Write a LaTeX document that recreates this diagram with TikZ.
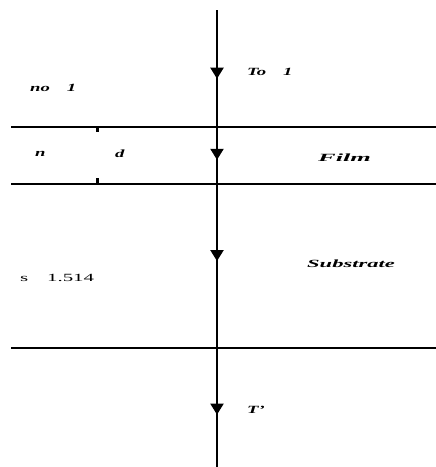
\documentclass[tikz,border=0pt]{standalone}
\usepackage{fontspec}
\setmainfont{Liberation Serif}
\usetikzlibrary{arrows.meta,decorations.markings}
\newcommand{\wide}[2][1.7]{\scalebox{#1}[1]{#2}}
\begin{document}
\begin{tikzpicture}[x=1pt,y=-1pt,
  iface/.style={line width=2pt},
  ray/.style={line width=2pt},
  lbl/.style={font=\fontsize{11}{13}\selectfont\bfseries\itshape, inner sep=0pt, anchor=west},
  tick/.style={line width=3pt},
  midarrow/.style={postaction={decorate,decoration={markings,
     mark=at position #1 with {\arrow{Triangle[width=13pt,length=11pt]}}}}}
]
\useasboundingbox (0,0) rectangle (436,467);
% interfaces
\coordinate (L1) at (11,126.5); \coordinate (R1) at (436,126.5);
\coordinate (L2) at (11,184);   \coordinate (R2) at (436,184);
\coordinate (L3) at (11,348);   \coordinate (R3) at (436,348);
\draw[iface] (L1) -- (R1);
\draw[iface] (L2) -- (R2);
\draw[iface] (L3) -- (R3);
% ray
\coordinate (top) at (217,10);
\coordinate (I1) at (217,126.5);
\coordinate (I2) at (217,184);
\coordinate (I3) at (217,348);
\coordinate (bot) at (217,467);
\draw[ray, midarrow=0.59] (top) -- (I1);
\draw[ray, midarrow=0.58] (I1) -- (I2);
\draw[ray, midarrow=0.47] (I2) -- (I3);
\draw[ray, midarrow=0.56] (I3) -- (bot);
% thickness marks
\coordinate (d1a) at (97,127); \coordinate (d1b) at (97,132);
\coordinate (d2a) at (97,178); \coordinate (d2b) at (97,183);
\draw[tick] (d1a) -- (d1b);
\draw[tick] (d2a) -- (d2b);
% labels
\node[lbl] (n0) at (30,88) {\wide{no\hspace{0.9em}1}};
\node[lbl] (T0) at (247,72) {\wide{To\hspace{0.9em}1}};
\node[lbl] (n) at (35,154) {\wide{n}};
\node[lbl] (d) at (115,154) {\wide{d}};
\node[lbl] (film) at (318,158) {\wide[2.4]{Film}};
\node[lbl] (sub) at (307,264) {\wide[2.05]{Substrate}};
\node[lbl, font=\fontsize{11}{13}\selectfont] (ns) at (20,278) {\wide[1.9]{s\hspace{0.9em}1.514}};
\node[lbl] (T1) at (247,410) {\wide{T'}};
\end{tikzpicture}
\end{document}
